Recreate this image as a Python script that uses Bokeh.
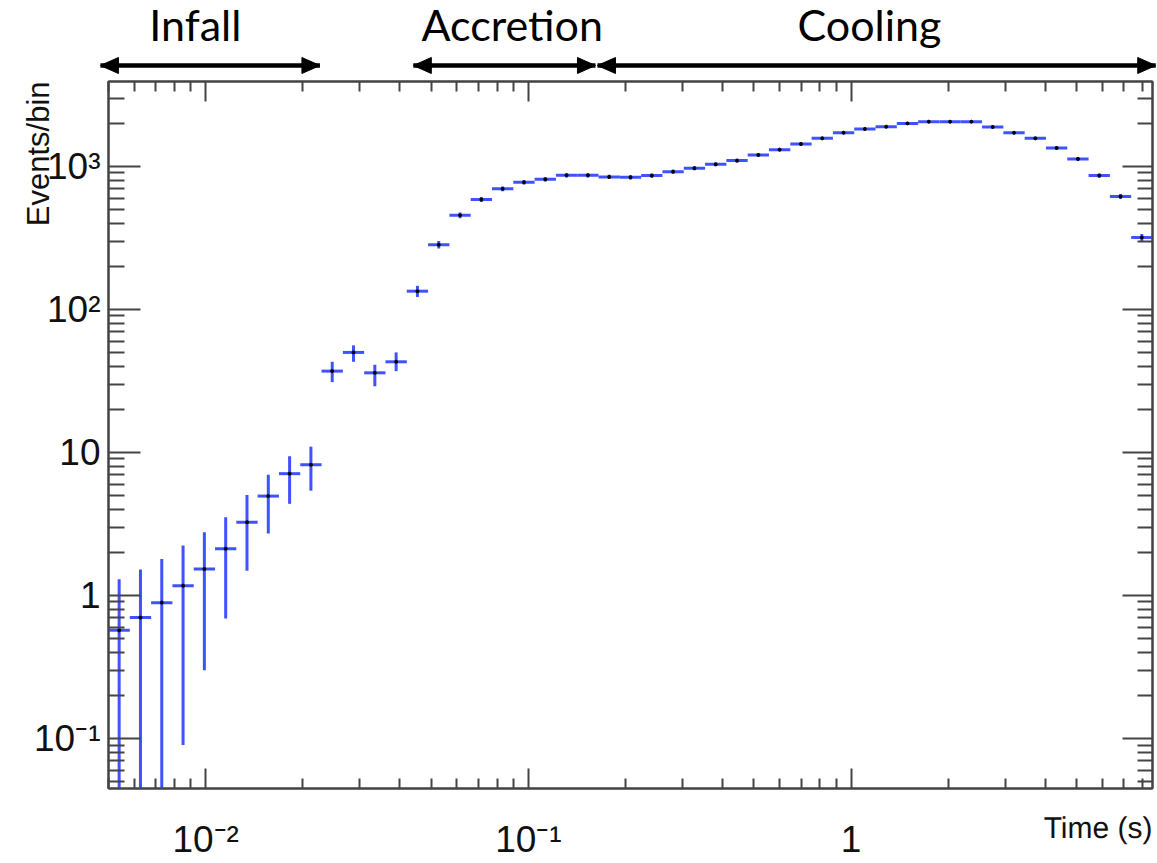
import math
from bokeh.plotting import figure
from bokeh.models import Range1d, FixedTicker, LogAxis
from bokeh.models import ColumnDataSource
from bokeh.layouts import column
from bokeh.core.properties import value
from bokeh.embed import file_html
from bokeh.resources import INLINE

# ---------------- data ----------------
# 50 logarithmic bin edges in time (s); the last visible bin ends at the frame
bin_edges = [0.005000, 0.005821, 0.006777, 0.007889, 0.009184, 0.010692, 0.012448,
             0.014491, 0.016871, 0.019640, 0.022865, 0.026619, 0.030989, 0.036077,
             0.042000, 0.048896, 0.056923, 0.066269, 0.077149, 0.089815, 0.10456,
             0.12173, 0.14171, 0.16498, 0.19207, 0.22360, 0.26031, 0.30305, 0.35280,
             0.41072, 0.47816, 0.55666, 0.64805, 0.75445, 0.87831, 1.02252, 1.1904,
             1.3858, 1.6134, 1.8782, 2.1866, 2.5456, 2.9635, 3.4500, 4.0165, 4.6760,
             5.4437, 6.3374, 7.3779, 8.5892]

events = [0.57, 0.70, 0.89, 1.17, 1.53, 2.12, 3.25, 4.95, 7.1, 8.2,
          37, 50, 36, 43,
          134, 283, 455, 586, 696, 773, 811, 865, 865, 843,
          838, 861, 918, 971, 1033, 1096, 1201, 1308, 1433, 1568,
          1717, 1824, 1893, 1996, 2051, 2051, 2051, 1884, 1717, 1568,
          1344, 1126, 861, 615, 318]

err_up = [0.73, 0.82, 0.91, 1.06, 1.24, 1.40, 1.78, 2.03, 2.3, 2.77,
          6, 6, 5, 7,
          12, 17, 21, 24, 26, 28, 28, 29, 29, 29,
          29, 29, 30, 31, 32, 33, 35, 36, 38, 40,
          41, 43, 44, 45, 45, 45, 45, 43, 41, 40,
          37, 34, 29, 25, 18]

err_down = [0.57, 0.70, 0.89, 1.08, 1.23, 1.43, 1.76, 2.24, 2.73, 2.8,
            6, 7, 7, 6,
            12, 17, 21, 24, 26, 28, 28, 29, 29, 29,
            29, 29, 30, 31, 32, 33, 35, 36, 38, 40,
            41, 43, 44, 45, 45, 45, 45, 43, 41, 40,
            37, 34, 29, 25, 18]

x_major = [0.01, 0.1, 1]
x_labels = ["10\u207b\u00b2", "10\u207b\u00b9", "1"]
y_major = [0.1, 1, 10, 100, 1000]
y_labels = ["10\u207b\u00b9", "1", "10", "10\u00b2", "10\u00b3"]

x_title = "Time (s)"
y_title = "Events/bin"

phases = ["Infall", "Accretion", "Cooling"]
phase_start = [0.00472, 0.0440, 0.1637]
phase_end = [0.0226, 0.1614, 8.79]
phase_label_x = [0.00929, 0.0891, 1.14]

# ---------------- layout constants ----------------
W, H = 1157, 863
STRIP_H = 76
FRAME_L, FRAME_R, FRAME_T, FRAME_B = 108, 1152, 81, 790
X_RANGE = (0.005, 8.589)
Y_RANGE = (0.0447, 3917)

# ---------------- derived ----------------
centers = [math.sqrt(bin_edges[i] * bin_edges[i + 1]) for i in range(len(events))]
lo = [max(v - d, 1e-3) for v, d in zip(events, err_down)]
hi = [v + u for v, u in zip(events, err_up)]
src = ColumnDataSource(dict(x=centers, xl=bin_edges[:-1], xr=bin_edges[1:],
                            y=events, ylo=lo, yhi=hi))

# ---------------- main plot ----------------
p = figure(width=W, height=H - STRIP_H, x_axis_type="log", y_axis_type="log",
           x_range=Range1d(*X_RANGE), y_range=Range1d(*Y_RANGE),
           output_backend="svg", toolbar_location=None,
           min_border_left=FRAME_L, min_border_right=W - FRAME_R,
           min_border_top=FRAME_T - STRIP_H, min_border_bottom=H - FRAME_B)
p.background_fill_color = "white"
p.border_fill_color = "white"
p.xgrid.visible = False
p.ygrid.visible = False
p.outline_line_color = "#3c3c3c"
p.outline_line_width = 2

def minors(exps):
    return [m * 10.0 ** e for e in exps for m in range(2, 10)]

x_minor = [t for t in minors([-3, -2, -1, 0]) if X_RANGE[0] <= t <= X_RANGE[1]]
y_minor = [t for t in minors([-2, -1, 0, 1, 2, 3]) if Y_RANGE[0] <= t <= Y_RANGE[1]]
xticker = FixedTicker(ticks=x_major, minor_ticks=x_minor)
yticker = FixedTicker(ticks=y_major, minor_ticks=y_minor)

AX_COL = "#444444"

def style(ax, major_in, minor_in):
    ax.major_tick_in = major_in
    ax.major_tick_out = 0
    ax.minor_tick_in = minor_in
    ax.minor_tick_out = 0
    ax.major_tick_line_color = AX_COL
    ax.minor_tick_line_color = AX_COL
    ax.major_tick_line_width = 2
    ax.minor_tick_line_width = 2
    ax.axis_line_color = AX_COL
    ax.axis_line_width = 2

xa = p.xaxis[0]
xa.ticker = xticker
xa.major_label_overrides = {t: s for t, s in zip(x_major, x_labels)}
xa.major_label_text_font = "Liberation Sans"
xa.major_label_text_font_size = "37px"
xa.major_label_text_color = "#111111"
xa.major_label_standoff = 30
style(xa, 20, 10)

ya = p.yaxis[0]
ya.ticker = yticker
ya.major_label_overrides = {t: s for t, s in zip(y_major, y_labels)}
ya.major_label_text_font = "Liberation Sans"
ya.major_label_text_font_size = "37px"
ya.major_label_text_color = "#111111"
ya.major_label_standoff = 8
style(ya, 32, 16)

# axis titles, ROOT style: right-aligned at the far end of each axis
xa.axis_label = x_title
xa.axis_label_align = "end"
xa.axis_label_orientation = 0.001
xa.axis_label_standoff = -35
xa.axis_label_text_font = "Liberation Sans"
xa.axis_label_text_font_size = "30px"
xa.axis_label_text_font_style = "normal"
xa.axis_label_text_color = "#111111"

ya.axis_label = y_title
ya.axis_label_align = "end"
ya.axis_label_orientation = math.pi / 2
ya.axis_label_standoff = -7
ya.axis_label_text_font = "Liberation Sans"
ya.axis_label_text_font_size = "31px"
ya.axis_label_text_font_style = "normal"
ya.axis_label_text_color = "#111111"

top = LogAxis(ticker=xticker, major_label_text_font_size="0px", major_label_standoff=0,
              major_label_overrides={t: "" for t in x_major})
style(top, 20, 10)
p.add_layout(top, "above")

right = LogAxis(ticker=yticker, major_label_text_font_size="0px", major_label_standoff=0,
                major_label_overrides={t: "" for t in y_major})
style(right, 30, 15)
p.add_layout(right, "right")

BLUE = "#3f52ff"
p.segment(x0="x", y0="ylo", x1="x", y1="yhi", source=src, line_color=BLUE, line_width=3)
p.segment(x0="xl", y0="y", x1="xr", y1="y", source=src, line_color=BLUE, line_width=3)
p.scatter("x", "y", source=src, size=3, color="black")

# ---------------- phase strip above the frame (same log scale as the plot) ----------------
lx0, lx1 = math.log10(X_RANGE[0]), math.log10(X_RANGE[1])
per_px = (lx1 - lx0) / (FRAME_R - FRAME_L)

s = figure(width=W, height=STRIP_H, x_axis_type="log",
           y_range=Range1d(STRIP_H, 0),
           x_axis_location=None, y_axis_location=None,
           output_backend="svg", toolbar_location=None,
           min_border_top=0, min_border_bottom=0)

if "frame_align" in s.properties():
    s.frame_align = False
    p.frame_align = False
    s.x_range = Range1d(10 ** (lx0 - FRAME_L * per_px), 10 ** (lx1 + (W - FRAME_R) * per_px))
    s.min_border_left = 0
    s.min_border_right = 0
else:
    s.x_range = Range1d(*X_RANGE)
    s.min_border_left = FRAME_L
    s.min_border_right = W - FRAME_R

s.outline_line_color = None
s.xgrid.visible = False
s.ygrid.visible = False
s.background_fill_color = "white"
s.border_fill_color = "white"

ARROW_Y = 65
TEXT_Y = 24
HEAD_LEN = 18
HEAD_HALF = 8

def shift(xv, dpx):
    return xv * 10 ** (dpx * per_px)

s.segment(x0=phase_start, y0=[ARROW_Y] * 3, x1=phase_end, y1=[ARROW_Y] * 3,
          line_color="black", line_width=4.5)
head_xs, head_ys = [], []
for x0, x1 in zip(phase_start, phase_end):
    head_xs.append([x0, shift(x0, HEAD_LEN), shift(x0, HEAD_LEN)])
    head_ys.append([ARROW_Y, ARROW_Y - HEAD_HALF, ARROW_Y + HEAD_HALF])
    head_xs.append([x1, shift(x1, -HEAD_LEN), shift(x1, -HEAD_LEN)])
    head_ys.append([ARROW_Y, ARROW_Y - HEAD_HALF, ARROW_Y + HEAD_HALF])
s.patches(head_xs, head_ys, fill_color="black", line_color="black", line_width=1)
s.text(x=phase_label_x, y=[TEXT_Y] * 3, text=phases, text_align="center",
       text_baseline="alphabetic", text_font=value("Lato"),
       text_font_size=value("43px"), text_color="black")

layout = column(s, p, spacing=0)
open("out.html", "w").write(file_html(layout, INLINE))
